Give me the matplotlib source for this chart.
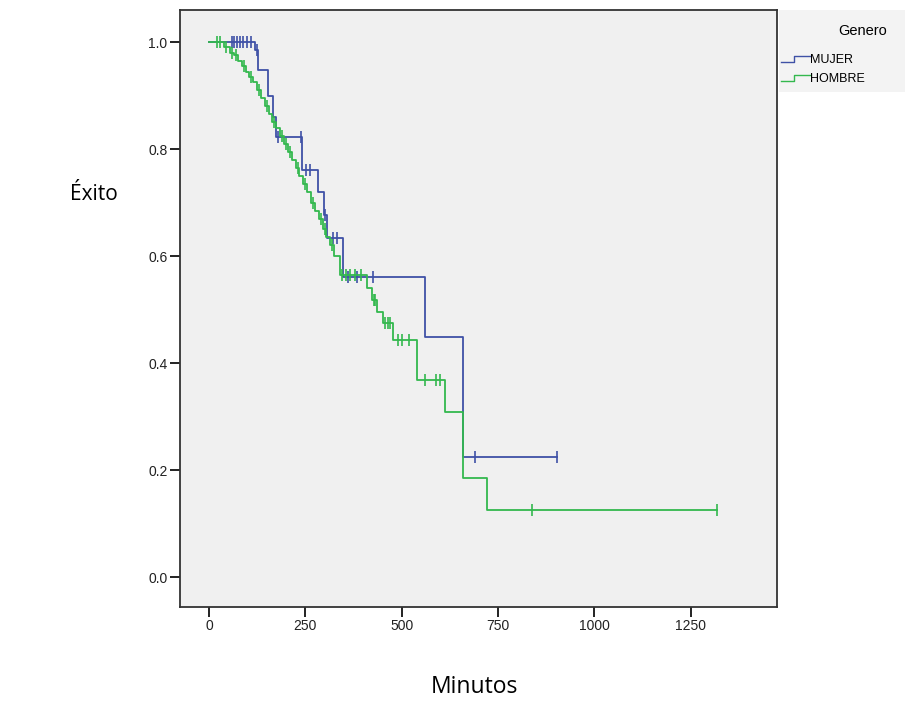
import matplotlib
matplotlib.use("Agg")
import matplotlib.pyplot as plt
from matplotlib.lines import Line2D
from matplotlib.legend_handler import HandlerBase
import numpy as np

# ---- data ----
groups = ["MUJER", "HOMBRE"]
colors = ["#3f51a6", "#33b84e"]

mujer_times = [0, 120, 127, 153, 166, 175, 241, 283, 298, 306, 348, 560, 659]
mujer_surv = [1.0, 0.985, 0.947, 0.90, 0.86, 0.822, 0.76, 0.72, 0.677, 0.634, 0.561, 0.449, 0.224]
mujer_end = 903
mujer_cens_t = [60, 66, 72, 80, 88, 100, 110, 125, 179, 240, 252, 262, 300, 322, 332, 362, 385, 426, 690, 903]

hombre_times = [0, 40, 55, 65, 75, 85, 95, 105, 115, 125, 135, 145, 155, 165, 175, 185,
                195, 205, 215, 225, 235, 245, 255, 265, 275, 285, 295, 305, 315, 325,
                340, 410, 423, 436, 452, 478, 540, 612, 659, 721]
hombre_surv = [1.0, 0.99, 0.98, 0.975, 0.965, 0.955, 0.945, 0.935, 0.925, 0.91, 0.895, 0.88,
               0.865, 0.85, 0.84, 0.825, 0.81, 0.795, 0.78, 0.765, 0.75, 0.735, 0.72, 0.70,
               0.685, 0.67, 0.65, 0.635, 0.62, 0.60, 0.565, 0.54, 0.518, 0.495, 0.475,
               0.443, 0.368, 0.308, 0.185, 0.125]
hombre_end = 1318
hombre_cens_t = [20, 30, 45, 60, 70, 90, 110, 130, 150, 170, 190, 200, 210, 230, 250, 270,
                 290, 300, 320, 345, 355, 365, 380, 395, 428, 432, 458, 465, 470, 490, 500,
                 520, 560, 590, 600, 838, 1318]

xticks = [0, 250, 500, 750, 1000, 1250]
yticks = [0.0, 0.2, 0.4, 0.6, 0.8, 1.0]

# ---- figure ----
fig = plt.figure(figsize=(9.05, 7.04), dpi=100)
ax = fig.add_axes([180/905, 1-607/704, (777-180)/905, (607-10)/704])
ax.set_facecolor("#f0f0f0")


def surv_at(times, surv, t):
    idx = np.searchsorted(times, t, side="right") - 1
    return np.array(surv)[idx]


series = [
    (mujer_times, mujer_surv, mujer_end, mujer_cens_t),
    (hombre_times, hombre_surv, hombre_end, hombre_cens_t),
]
for (t, s, end, ct), col, name in zip(series, colors, groups):
    tt = list(t) + [end]
    ss = list(s) + [s[-1]]
    ax.step(tt, ss, where="post", color=col, lw=1.3, label=name)
    cs = surv_at(t, s, ct)
    ax.plot(ct, cs, ls="none", marker="|", ms=8, mew=1.2, color=col)

ax.set_xlim(-75, 1474)
ax.set_ylim(-0.056, 1.06)
ax.set_xticks(xticks)
ax.set_xticklabels([str(v) for v in xticks], fontsize=10, family="Liberation Sans", color="#222222")
ax.set_yticks(yticks)
ax.set_yticklabels([f"{v:.1f}" for v in yticks], fontsize=10, family="Liberation Sans", color="#222222")
ax.tick_params(direction="out", length=7, width=1.4, colors="#222222", pad=2)
for sp in ax.spines.values():
    sp.set_color("#333333")
    sp.set_linewidth(1.3)

fig.text(70/905, 1-195/704, "Éxito", fontsize=15, family="Open Sans", ha="left", va="center")
fig.text(474/905, 1-687/704, "Minutos", fontsize=16.5, family="Open Sans", ha="center", va="center")


class StepHandler(HandlerBase):
    def create_artists(self, legend, orig_handle, xdescent, ydescent, width, height, fontsize, trans):
        x = np.array([0.0, 0.45, 0.45, 1.0]) * width - xdescent
        y = np.array([0.15, 0.15, 0.85, 0.85]) * height - ydescent
        line = Line2D(x, y, color=orig_handle.get_color(), lw=1.0, transform=trans)
        return [line]


handles = [Line2D([], [], color=c) for c in colors]
fig.patches.append(plt.Rectangle((779/905, 1-92/704), 126/905, 82/704,
                                 transform=fig.transFigure, facecolor="#f3f3f3",
                                 edgecolor="none", zorder=0))
fig.text(863/905, 1-31/704, "Genero", fontsize=10.5, family="Liberation Sans", ha="center", va="center")
leg = fig.legend(handles, groups, handler_map={Line2D: StepHandler()},
                 loc="upper left", bbox_to_anchor=(781/905, 1-54/704),
                 frameon=False, prop={"family": "Liberation Sans", "size": 9},
                 handlelength=2.3, handletextpad=0.05, labelspacing=0.6,
                 borderaxespad=0, borderpad=0)

fig.savefig("out.png", dpi=100, facecolor="white")
